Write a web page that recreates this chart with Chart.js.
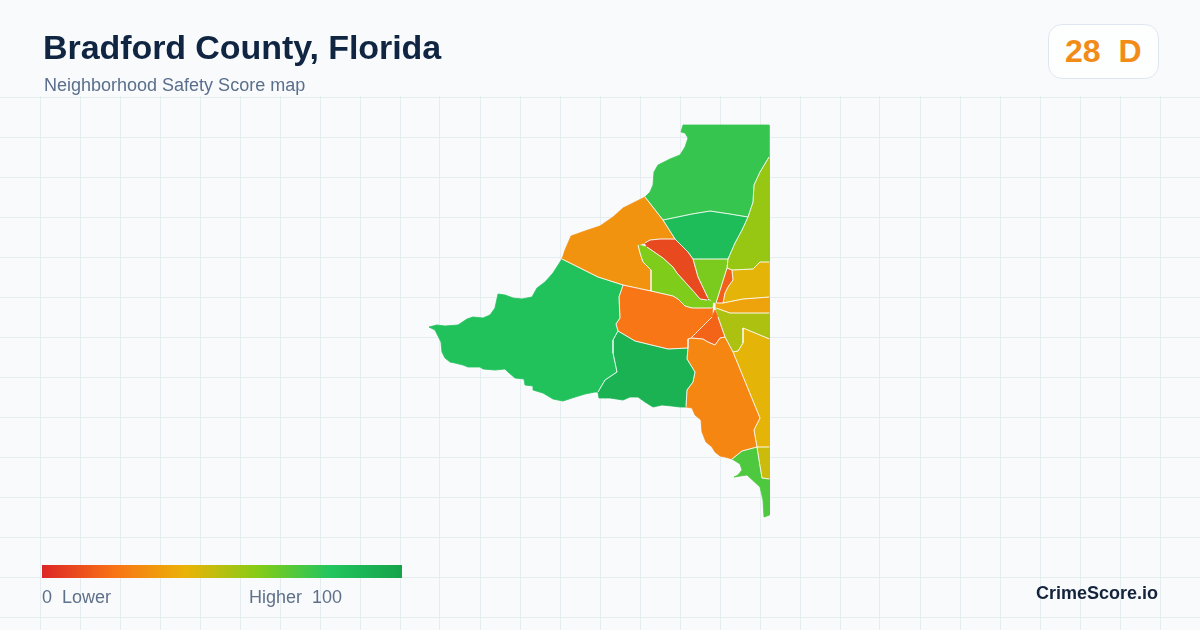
<!DOCTYPE html>
<html>
<head>
<meta charset="utf-8">
<title>Bradford County, Florida</title>
<script src="https://cdn.jsdelivr.net/npm/chart.js@4/dist/chart.umd.min.js"></script>
<style>
  html, body { margin: 0; padding: 0; width: 1200px; height: 630px; overflow: hidden; background: #f8fafc; }
  body { position: relative; font-family: "Liberation Sans", Arial, sans-serif; }
  #map { position: absolute; left: 0; top: 0; }
  .txt { position: absolute; white-space: pre; line-height: 1; }
  #title { left: 43px; top: 30px; font-size: 34px; font-weight: 700; color: #0f2542; letter-spacing: -0.07px; }
  #subtitle { left: 44px; top: 76px; font-size: 18px; color: #5a6f8c; }
  #badge { position: absolute; left: 1048px; top: 24px; width: 109px; height: 53px; border: 1px solid #e0e6ef; border-radius: 14px; background: #fdfefe; }
  #grade { left: 1065px; top: 35px; font-size: 32px; font-weight: 700; color: #f28c18; }
  #bar { position: absolute; left: 42px; top: 565px; width: 360px; height: 13px; }
  #low { left: 42px; top: 588px; font-size: 18px; color: #5f7189; }
  #high { left: 249px; top: 588px; font-size: 18px; color: #5f7189; }
  #brand { left: 1036px; top: 584px; font-size: 18px; font-weight: 700; color: #14233c; }
</style>
</head>
<body>
<canvas id="map" width="1200" height="630"></canvas>
<div class="txt" id="title">Bradford County, Florida</div>
<div class="txt" id="subtitle">Neighborhood Safety Score map</div>
<div id="badge"></div>
<div class="txt" id="grade">28  D</div>
<div id="bar"></div>
<div class="txt" id="low">0  Lower</div>
<div class="txt" id="high">Higher  100</div>
<div class="txt" id="brand">CrimeScore.io</div>
<script>
// score scale
const scaleScores = [0, 20, 40, 60, 80, 100];
const scaleColors = ["#dc2626", "#f97316", "#eab308", "#84cc16", "#22c55e", "#16a34a"];

// tract outlines, in map units
const northTract = [[683,125],[769,125],[769,157],[760,172],[754,185],[753,202],[748,217],[730,214],[710,211],[692,214],[663,220],[645,197],[650,192],[653,185],[654,172],[658,165],[670,159],[680,155],[685,147],[688,138],[685,133],[681,132]];
const midNorthTract = [[663,220],[692,214],[710,211],[730,214],[748,217],[742,230],[735,243],[728,259],[693,259],[688,252],[675,239]];
const eastTopTract = [[769,157],[769.5,262],[760,262],[753,269],[732,270],[727,268],[728,259],[735,243],[742,230],[748,217],[753,202],[754,185],[760,172]];
const eastYellowTract = [[769.5,262],[760,262],[753,269],[732,270],[733,280],[728,287],[725,293],[723,303],[743,299],[769.5,297]];
const eastStripTract = [[716,303],[723,303],[743,299],[769.5,297],[769.5,313],[730,313],[716,308]];
const narrowTract = [[727,268],[732,270],[733,280],[728,287],[725,293],[723,303],[716,303]];
const limeTract = [[693,259],[728,259],[727,268],[716,303],[713,302],[708,298],[698,277]];
const redTract = [[645,243],[650,240],[660,239],[675,239],[688,252],[693,259],[698,277],[708,298],[707,300],[700,299],[695,293],[677,273],[673,267],[663,258],[647,247]];
const limeWestTract = [[638,245],[647,247],[663,258],[673,267],[677,273],[695,293],[700,299],[707,300],[713,302],[712,308],[692,308],[685,306],[678,299],[673,296],[651,291],[651,270],[643,262],[640,253]];
const northWestTract = [[645,197],[663,220],[675,239],[660,239],[650,240],[645,243],[638,245],[640,253],[643,262],[651,270],[651,291],[623,285],[598,277],[562,259],[565,250],[571,236],[585,231],[600,226],[613,217],[623,208],[637,201]];
const westTract = [[562,259],[598,277],[623,285],[619,297],[620,318],[616,324],[618,331],[613,340],[613,353],[617,372],[605,380],[598,392],[595,392],[585,394],[572,398],[563,401],[553,399],[543,393],[533,390],[533,386],[525,385],[524,379],[515,378],[508,372],[505,369],[495,370],[483,369],[480,367],[468,367],[463,365],[455,363],[450,362],[445,358],[442,352],[441,342],[435,330],[429,327],[437,325],[445,326],[458,325],[467,319],[473,317],[483,318],[490,315],[495,308],[498,294],[505,295],[513,298],[522,299],[532,297],[537,288],[545,282],[553,273]];
const southTract = [[618,331],[635,341],[668,349],[688,348],[687,359],[695,372],[693,382],[687,390],[686,407],[680,407],[672,406],[662,405],[653,407],[645,402],[638,397],[630,397],[623,400],[610,398],[599,398],[598,392],[605,380],[617,372],[613,353],[613,340]];
const centerTract = [[623,285],[651,291],[673,296],[678,299],[685,306],[692,308],[712,308],[712,317],[691,338],[688,339],[688,348],[668,349],[635,341],[618,331],[616,324],[620,318],[619,297]];
const hubTract = [[715,310],[718,317],[725,337],[720,338],[715,345],[708,342],[703,339],[691,338],[712,317]];
const southEastTract = [[688,339],[691,338],[703,339],[708,342],[715,345],[720,338],[725,337],[733,352],[760,418],[754,430],[757,447],[742,451],[732,459],[725,457],[720,456],[715,452],[712,447],[706,442],[702,432],[701,420],[695,415],[692,408],[686,407],[687,390],[693,382],[695,372],[687,359],[688,348]];
const eastSouthTract = [[743,328],[769.5,339],[769.5,447],[757,447],[754,430],[760,418],[733,352],[738,351],[743,343]];
const hubEastTract = [[716,308],[730,313],[769.5,313],[769.5,339],[743,328],[743,343],[738,351],[733,352],[725,337],[718,317]];
const smallSouthTract = [[757,447],[769.5,447],[769.5,479],[762,478],[759,460]];
const tipTract = [[742,451],[757,447],[759,460],[762,478],[769.5,479],[769.5,515],[764,517],[763,500],[760,487],[747,475],[734,477],[738,475],[742,470],[740,464],[732,459]];

const tracts = [northTract, midNorthTract, eastTopTract, eastYellowTract, eastStripTract, limeTract, redTract, limeWestTract, northWestTract, westTract, southTract, centerTract, southEastTract, eastSouthTract, hubEastTract, smallSouthTract, tipTract, narrowTract, hubTract];
const tractScores = [76, 85, 56, 41, 35, 62, 9, 61, 30, 82, 91, 21, 26, 41, 52, 46, 71, 15, 16];

// background grid
const gridX = [40,80,120,160,200,240,280,320,360,400,440,480,520,560,600,640,680,720,760,800,840,880,920,960,1000,1040,1080,1120,1160];
const gridY = [97,137,177,217,257,297,337,377,417,457,497,537,577,617];

function hex2rgb(h) {
  return [parseInt(h.slice(1,3),16), parseInt(h.slice(3,5),16), parseInt(h.slice(5,7),16)];
}

function scoreColor(s) {
  let i = 0;
  while (i < scaleScores.length - 2 && s > scaleScores[i+1]) i++;
  const t = (s - scaleScores[i]) / (scaleScores[i+1] - scaleScores[i]);
  const a = hex2rgb(scaleColors[i]), b = hex2rgb(scaleColors[i+1]);
  return "rgb(" + a.map((v,k) => Math.round(v + (b[k]-v)*t)).join(",") + ")";
}

// an edge is a shared border when a neighbouring tract has both of its ends
function isShared(a, b, own) {
  const has = (t, p) => t.some(q => q[0] === p.x && q[1] === p.y);
  return tracts.some((t, i) => i !== own && has(t, a) && has(t, b));
}

document.getElementById("bar").style.background =
  "linear-gradient(90deg," + scaleColors.map((c,i) => c + " " + scaleScores[i] + "%").join(",") + ")";

const closed = pts => pts.concat([pts[0]]).map(p => ({x: p[0], y: p[1]}));

const fills = tracts.map((pts, i) => ({
  data: closed(pts),
  showLine: true,
  fill: "shape",
  tension: 0,
  pointRadius: 0,
  backgroundColor: scoreColor(tractScores[i]),
  borderWidth: 0
}));

// the first datasets end up on top, so the borders go before the fills
const borders = tracts.map((pts, i) => {
  const color = scoreColor(tractScores[i]);
  return {
    data: closed(pts),
    showLine: true,
    fill: false,
    tension: 0,
    pointRadius: 0,
    borderColor: color,
    borderWidth: 0.8,
    segment: {
      borderColor: ctx => isShared(ctx.p0.parsed, ctx.p1.parsed, i) ? "rgba(255,255,255,0.7)" : color
    }
  };
});

new Chart(document.getElementById("map"), {
  type: "scatter",
  data: { datasets: borders.concat(fills) },
  options: {
    responsive: false,
    animation: false,
    devicePixelRatio: 1,
    layout: { padding: { top: 96 } },
    plugins: { legend: { display: false }, tooltip: { enabled: false } },
    scales: {
      x: {
        min: 0, max: 1200,
        afterBuildTicks: s => { s.ticks = gridX.map(v => ({value: v})); },
        ticks: { display: false },
        border: { display: false },
        grid: { color: "#e5edf1", lineWidth: 1, drawTicks: false }
      },
      y: {
        min: 96, max: 630, reverse: true,
        afterBuildTicks: s => { s.ticks = gridY.map(v => ({value: v})); },
        ticks: { display: false },
        border: { display: false },
        grid: { color: "#e5edf1", lineWidth: 1, drawTicks: false }
      }
    }
  }
});
</script>
</body>
</html>
